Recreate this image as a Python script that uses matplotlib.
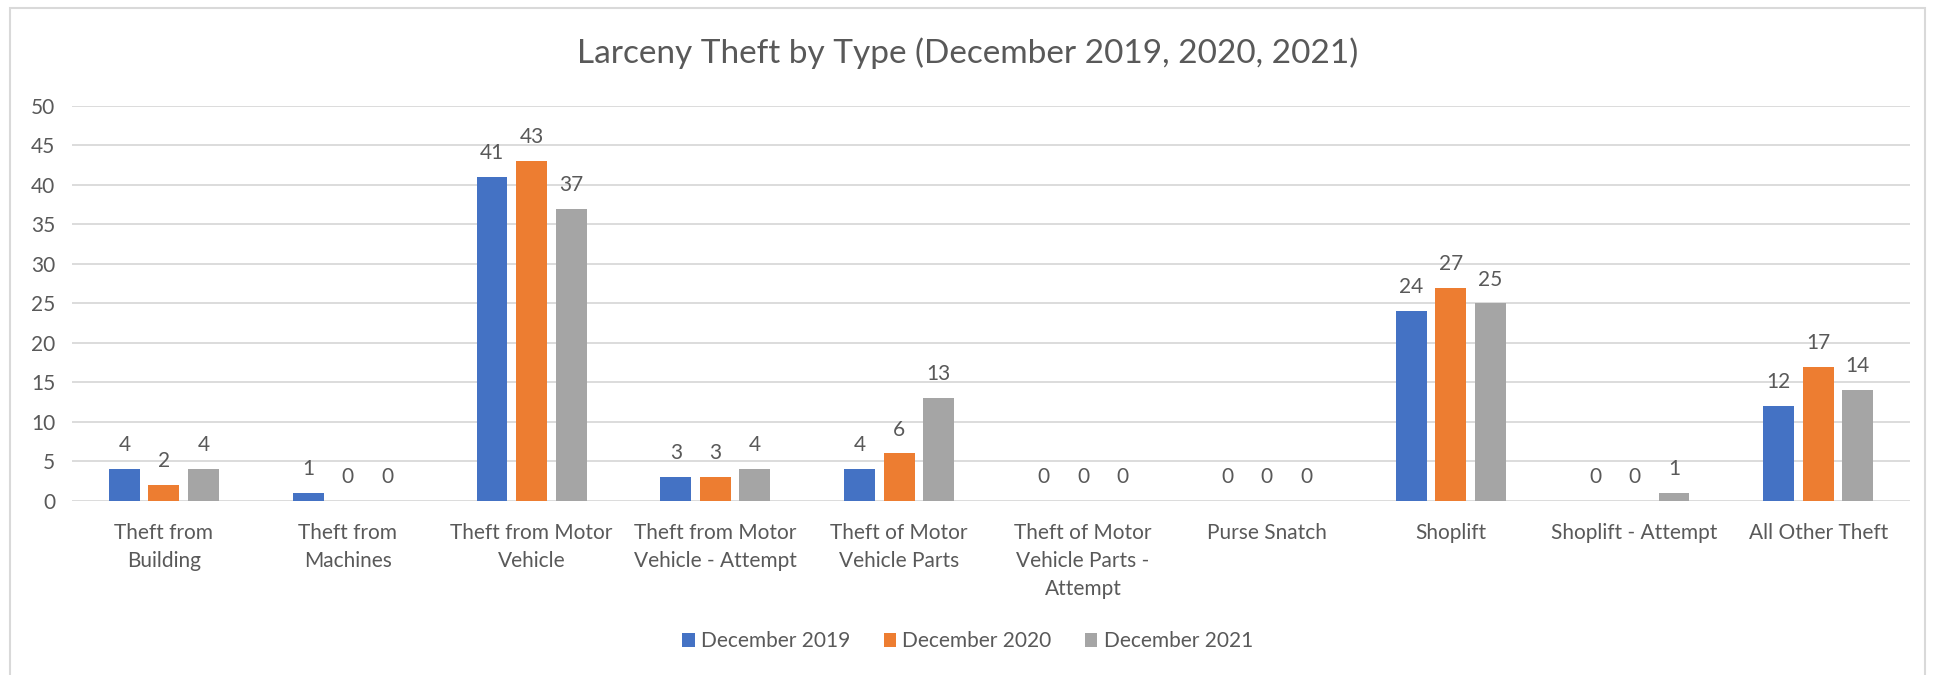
import matplotlib
matplotlib.use("Agg")
import matplotlib.pyplot as plt
import numpy as np
from matplotlib.patches import Rectangle

categories = ["Theft from\nBuilding", "Theft from\nMachines", "Theft from Motor\nVehicle",
              "Theft from Motor\nVehicle - Attempt", "Theft of Motor\nVehicle Parts",
              "Theft of Motor\nVehicle Parts -\nAttempt", "Purse Snatch", "Shoplift",
              "Shoplift - Attempt", "All Other Theft"]
series_names = ["December 2019", "December 2020", "December 2021"]
dec_2019 = [4, 1, 41, 3, 4, 0, 0, 24, 0, 12]
dec_2020 = [2, 0, 43, 3, 6, 0, 0, 27, 0, 17]
dec_2021 = [4, 0, 37, 4, 13, 0, 0, 25, 1, 14]
colors = ["#4472C4", "#ED7D31", "#A5A5A5"]
TXT = "#595959"

plt.rcParams["font.family"] = ["Lato", "DejaVu Sans"]

fig = plt.figure(figsize=(19.35, 6.75), dpi=100)
ax = fig.add_axes([0.0372, 0.258, 0.950, 0.585])

x = np.arange(len(categories))
w = 0.168
step = 0.215
for i, (name, vals) in enumerate(zip(series_names, [dec_2019, dec_2020, dec_2021])):
    pos = x + (i - 1) * step
    bars = ax.bar(pos, vals, width=w, color=colors[i], label=name, zorder=3)
    for b, v in zip(bars, vals):
        ax.annotate(str(v), (b.get_x() + b.get_width() / 2, v), xytext=(0, 10),
                    textcoords="offset points", ha="center", va="bottom",
                    fontsize=15, color=TXT)

ax.set_xlim(-0.5, len(categories) - 0.5)
ax.set_ylim(0, 50)
ax.set_yticks(range(0, 51, 5))
ax.grid(axis="y", color="#D9D9D9", lw=1.3, zorder=0)
for s in ax.spines.values():
    s.set_visible(False)
ax.tick_params(length=0, labelsize=15, colors=TXT)
ax.tick_params(axis="y", pad=12)
ax.tick_params(axis="x", pad=16)
ax.set_xticks(x)
ax.set_xticklabels(categories, linespacing=1.5, va="top")

fig.suptitle("Larceny Theft by Type (December 2019, 2020, 2021)", y=0.945,
             fontsize=24, color=TXT)

fig.legend(loc="center", bbox_to_anchor=(0.5, 0.05), ncol=3, frameon=False,
           fontsize=15, handlelength=0.6, handleheight=0.6, handletextpad=0.3,
           columnspacing=1.6, labelcolor=TXT)

fig.patches.append(Rectangle((0.005, -0.01), 0.99, 0.998, transform=fig.transFigure,
                             fill=False, edgecolor="#D9D9D9", lw=1.5))

fig.savefig("out.png", dpi=100)
